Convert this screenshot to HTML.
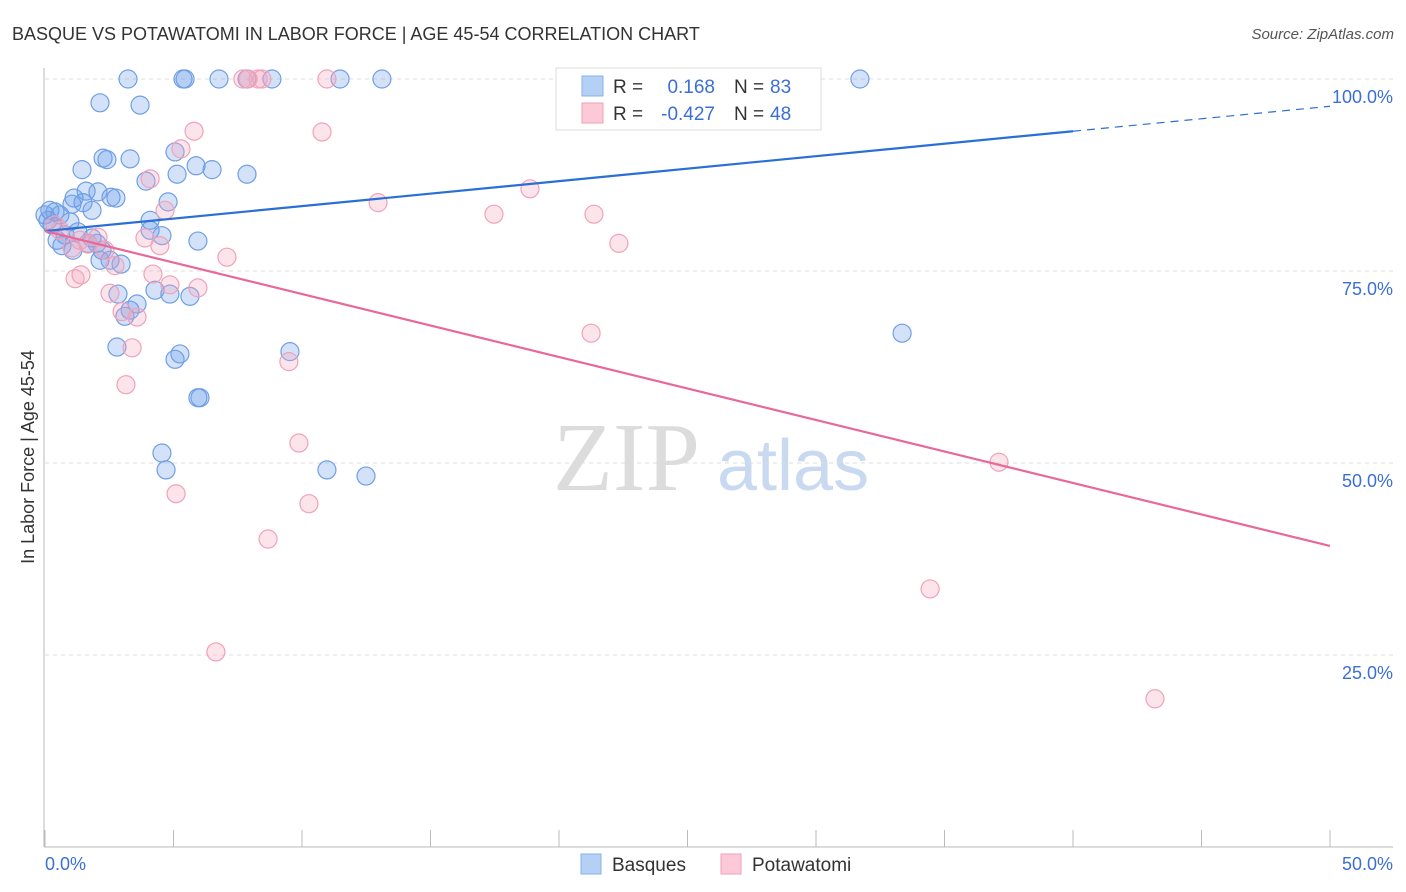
<!DOCTYPE html>
<html><head><meta charset="utf-8"><style>
body{margin:0;background:#fff;font-family:"Liberation Sans",sans-serif;}
svg{display:block}
</style></head><body>
<svg id="chart" width="1406" height="892">
<text x="12" y="40" font-size="18" fill="#333">BASQUE VS POTAWATOMI IN LABOR FORCE | AGE 45-54 CORRELATION CHART</text>
<text x="1394" y="39" font-size="15" fill="#555" font-style="italic" text-anchor="end">Source: ZipAtlas.com</text>
<g>
<text x="553" y="490" font-family="Liberation Serif,serif" font-size="98" fill="#dcdcdc">ZIP</text>
<text x="717" y="490" font-size="72" fill="#c9d9f0">atlas</text>
</g>
<g id="grid"></g>
<g id="axes"></g>
<g id="pts"></g>
<g id="trend"></g>
<text transform="translate(34,457) rotate(-90)" font-size="18" fill="#333" text-anchor="middle">In Labor Force | Age 45-54</text>
<text x="45" y="870" font-size="18" fill="#3b6fd4">0.0%</text>
<text x="1393" y="870" font-size="18" fill="#3b6fd4" text-anchor="end">50.0%</text>
<g>
<rect x="556" y="68" width="265" height="62" fill="#fff" stroke="#ddd"/>
<rect x="582" y="76" width="21" height="20" fill="#b5d0f5" stroke="#8ab0e8"/>
<rect x="582" y="103" width="21" height="20" fill="#fbc9d7" stroke="#f0a0b8"/>
<text x="613" y="93" font-size="19" fill="#333">R =</text>
<text x="715" y="93" font-size="19" fill="#3b6fd4" text-anchor="end">0.168</text>
<text x="734" y="93" font-size="19" fill="#333">N =</text>
<text x="770" y="93" font-size="19" fill="#3b6fd4">83</text>
<text x="613" y="120" font-size="19" fill="#333">R =</text>
<text x="715" y="120" font-size="19" fill="#3b6fd4" text-anchor="end">-0.427</text>
<text x="734" y="120" font-size="19" fill="#333">N =</text>
<text x="770" y="120" font-size="19" fill="#3b6fd4">48</text>
</g>
<g>
<rect x="581" y="854" width="20" height="20" fill="#b5d0f5" stroke="#8ab0e8"/>
<text x="612" y="871" font-size="19" fill="#333">Basques</text>
<rect x="721" y="854" width="20" height="20" fill="#fbc9d7" stroke="#f0a0b8"/>
<text x="752" y="871" font-size="19" fill="#333">Potawatomi</text>
</g>
</svg>
<script>
const yTicks=[100,75,50,25];
const yTickLabels=["100.0%","75.0%","50.0%","25.0%"];
const xTicks=[0,5,10,15,20,25,30,35,40,45,50];
const basquesX=[3.23,5.37,5.45,6.77,7.86,8.83,11.48,13.11,20.66,23.15,27.82,31.71,2.14,3.70,2.26,2.41,3.31,5.06,1.44,5.88,6.50,5.14,7.86,3.93,1.60,2.06,1.13,2.57,2.76,4.79,1.05,1.48,1.83,0.19,0.39,0.58,4.09,0.97,4.09,4.55,1.28,1.83,5.95,0.47,0.66,1.09,2.02,2.22,2.14,2.96,2.84,4.28,4.86,5.64,3.58,3.31,3.11,2.80,5.25,5.06,9.53,5.95,6.03,4.55,4.71,10.97,12.49,33.35,0.12,0.0,0.27,0.78,1.67,2.53];
const basquesY=[100,100,100,100,100,100,100,100,100,100,100,100,96.9,96.6,89.7,89.5,89.6,90.5,88.2,88.7,88.2,87.6,87.6,86.7,85.4,85.3,84.5,84.6,84.5,84.0,83.7,83.9,82.9,82.9,82.7,82.3,81.6,81.4,80.3,79.6,80.1,79.3,78.9,79.0,78.3,77.7,78.6,77.7,76.4,75.9,72.0,72.5,72.0,71.7,70.7,69.9,69.1,65.1,64.2,63.5,64.5,58.5,58.5,51.3,49.1,49.1,48.3,66.9,81.6,82.3,81.0,79.7,78.6,76.4];
const potX=[7.70,7.90,8.29,8.44,10.97,5.80,10.78,5.29,4.09,4.67,12.96,17.47,18.87,21.36,22.33,3.89,4.47,1.67,2.06,2.72,4.20,4.86,5.95,7.08,1.17,1.40,2.53,3.00,3.58,3.39,3.15,21.25,9.49,9.88,5.10,10.27,8.68,6.65,37.12,34.44,43.19,0.39,0.58,1.05,1.36,2.33];
const potY=[100,100,100,100,100,93.2,93.1,90.9,87.0,82.9,83.9,82.4,85.7,82.4,78.6,79.3,78.3,78.5,79.4,75.7,74.6,73.2,72.8,76.8,74.0,74.5,72.1,69.7,69.0,65.0,60.2,66.9,63.2,52.6,46.0,44.7,40.1,25.4,50.1,33.6,19.3,81.0,80.3,78.0,79.0,77.7];
const trendIntercept=[80.2,80.2];
const trendSlope=[0.325,-0.82];
const NS="http://www.w3.org/2000/svg";
const X0=45,X1=1330,Y0=847,Y100=79;
function sx(v){return X0+(X1-X0)*v/50;}
function sy(v){return Y0-(Y0-Y100)*v/100;}
function mk(t,a,p){const e=document.createElementNS(NS,t);for(const k in a)e.setAttribute(k,a[k]);p.appendChild(e);return e;}
const grid=document.getElementById('grid');
yTicks.forEach((t,i)=>{
 const l=mk('line',{x1:45,x2:1393,y1:sy(t),y2:sy(t),stroke:'#ddd','stroke-dasharray':'4,4'},grid);
 
 
 const tx=mk('text',{x:1393,y:sy(t)+24,'font-size':18,fill:'#3b6fd4','text-anchor':'end'},grid);
 tx.textContent=yTickLabels[i];
 
 
});
const axes=document.getElementById('axes');
let a1=mk('line',{x1:44,x2:44,y1:68,y2:847,stroke:'#bbb'},axes);


let a2=mk('line',{x1:44,x2:1393,y1:847,y2:847,stroke:'#bbb'},axes);


xTicks.forEach(t=>{
 const l=mk('line',{x1:sx(t),x2:sx(t),y1:830,y2:847,stroke:'#bbb'},axes);
 
 
});
const pts=document.getElementById('pts');
basquesX.forEach((v,i)=>{
 const c=mk('circle',{cx:sx(v),cy:sy(basquesY[i]),r:9,fill:'rgba(110,160,235,0.3)',stroke:'#6f9fe4','stroke-width':1.2},pts);
 
 
});
potX.forEach((v,i)=>{
 const c=mk('circle',{cx:sx(v),cy:sy(potY[i]),r:9,fill:'rgba(245,165,190,0.3)',stroke:'#f0a2ba','stroke-width':1.2},pts);
 
 
});
const tr=document.getElementById('trend');
const f=(k,x)=>trendIntercept[k]+trendSlope[k]*x;
let b1=mk('line',{x1:sx(0),y1:sy(f(0,0)),x2:sx(40),y2:sy(f(0,40)),stroke:'#2a6fd6','stroke-width':2.2},tr);


let b2=mk('line',{x1:sx(40),y1:sy(f(0,40)),x2:sx(50),y2:sy(f(0,50)),stroke:'#2a6fd6','stroke-width':1.2,'stroke-dasharray':'8,6'},tr);


let p1=mk('line',{x1:sx(0),y1:sy(f(1,0)),x2:sx(50),y2:sy(f(1,50)),stroke:'#e8689a','stroke-width':2.2},tr);


</script>
</body></html>
